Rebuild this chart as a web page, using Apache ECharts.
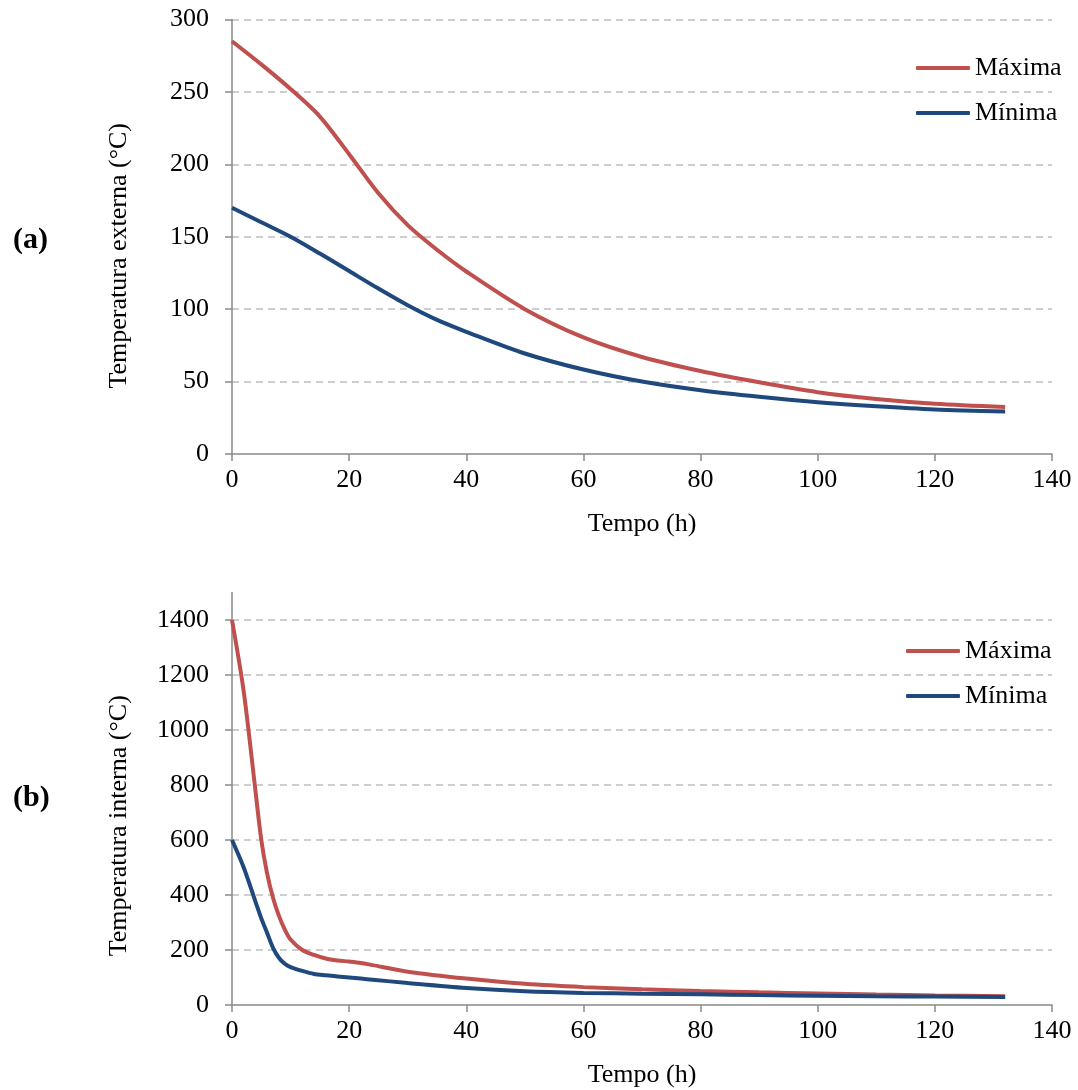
<!DOCTYPE html>
<html>
<head>
<meta charset="utf-8">
<script src="https://cdn.jsdelivr.net/npm/echarts@6/dist/echarts.min.js"></script>
<style>
html,body{margin:0;padding:0;background:#fff;}
#chart{width:1078px;height:1090px;}
</style>
</head>
<body>
<div id="chart"></div>
<script>
// Chart (a): external temperature
var timeA = [0, 5, 10, 15, 20, 25, 30, 35, 40, 50, 60, 70, 80, 90, 100, 110, 120, 132];
var maxA  = [285, 269, 252, 233, 207, 180, 158, 141, 126, 100, 80.5, 67, 57.3, 49.5, 42.7, 38, 34.7, 32.4];
var minA  = [170, 160, 150, 138.4, 126.3, 114.2, 102.7, 92.6, 84.4, 69.4, 58.3, 50, 44, 39.5, 35.8, 33, 30.8, 29.4];

// Chart (b): internal temperature
var timeB = [0, 2, 4, 5, 6, 7, 8, 9, 10, 12, 14, 16, 18, 20, 22, 24, 30, 40, 50, 60, 70, 80, 90, 100, 110, 120, 132];
var maxB  = [1400, 1140, 780, 600, 478, 390, 325, 275, 238, 200, 182, 169, 162, 158, 153, 145, 121, 96, 77, 65, 57, 51, 46, 42, 38, 35, 32];
var minB  = [600, 500, 376, 315, 262, 208, 172, 150, 138, 124, 113, 108, 104, 100, 96, 92, 80, 62, 50, 44, 41, 39, 36, 34, 32, 30.5, 29];

var xTicks = [0, 20, 40, 60, 80, 100, 120, 140];
var yTicksA = [0, 50, 100, 150, 200, 250, 300];
var yTicksB = [0, 200, 400, 600, 800, 1000, 1200, 1400];

var seriesNames = ['Máxima', 'Mínima'];
var panelLabels = ['(a)', '(b)'];
var yNames = ['Temperatura externa (°C)', 'Temperatura interna (°C)'];
var xName = 'Tempo (h)';

function pairs(t, v) { return t.map(function (x, i) { return [x, v[i]]; }); }

var FONT = 'Liberation Serif, Times New Roman, serif';
var RED = '#C0504D', BLUE = '#1F497D';
var axisGray = '#898989', gridGray = '#BFBFBF';
var plain = function (v) { return String(v); };

function xAxisCfg(gridIndex) {
  return {
    type: 'value', gridIndex: gridIndex, min: 0, max: 140, interval: 20,
    name: xName, nameLocation: 'middle', nameGap: 57,
    nameTextStyle: { fontFamily: FONT, fontSize: 26, color: '#000' },
    axisLine: { show: true, onZero: false, lineStyle: { color: axisGray, width: 1.5 } },
    axisTick: { show: true, inside: false, length: 7, customValues: xTicks, lineStyle: { color: axisGray, width: 1.5 } },
    axisLabel: { fontFamily: FONT, fontSize: 26, color: '#000', margin: 13, customValues: xTicks, formatter: plain },
    splitLine: { show: false }
  };
}

var chart = echarts.init(document.getElementById('chart'), null, { renderer: 'canvas' });
var option = {
  backgroundColor: '#fff',
  animation: false,
  title: [
    { text: panelLabels[0], left: 13, top: 225, padding: 0,
      textStyle: { fontFamily: FONT, fontSize: 30, fontWeight: 'bold', color: '#000' } },
    { text: panelLabels[1], left: 13, top: 783, padding: 0,
      textStyle: { fontFamily: FONT, fontSize: 30, fontWeight: 'bold', color: '#000' } }
  ],
  legend: [
    { data: seriesNames, orient: 'vertical', left: 916, top: 55, itemWidth: 54, itemHeight: 4, itemGap: 19,
      icon: 'roundRect', padding: 0,
      textStyle: { fontFamily: FONT, fontSize: 26, color: '#000' } },
    { data: seriesNames, orient: 'vertical', left: 906, top: 638, itemWidth: 54, itemHeight: 4, itemGap: 19,
      icon: 'roundRect', padding: 0,
      textStyle: { fontFamily: FONT, fontSize: 26, color: '#000' } }
  ],
  grid: [
    { left: 232, top: 19.5, width: 820, height: 434.5, containLabel: false },
    { left: 232, top: 592.5, width: 820, height: 412.5, containLabel: false }
  ],
  xAxis: [xAxisCfg(0), xAxisCfg(1)],
  yAxis: [
    {
      type: 'value', gridIndex: 0, min: 0, max: 300, interval: 50,
      name: yNames[0], nameLocation: 'middle', nameGap: 100,
      nameTextStyle: { fontFamily: FONT, fontSize: 26, color: '#000', padding: [0, 38, 0, 0] },
      axisLine: { show: true, lineStyle: { color: axisGray, width: 1.5 } },
      axisTick: { show: true, inside: false, length: 7, lineStyle: { color: axisGray, width: 1.5 } },
      axisLabel: { fontFamily: FONT, fontSize: 26, color: '#000', margin: 23, formatter: plain },
      splitLine: { show: true, showMinLine: false, lineStyle: { color: gridGray, width: 1.5, type: [7, 5] } }
    },
    {
      type: 'value', gridIndex: 1, min: 0, max: 1500, interval: 200,
      name: yNames[1], nameLocation: 'middle', nameGap: 100,
      nameTextStyle: { fontFamily: FONT, fontSize: 26, color: '#000', padding: [0, 54, 0, 0] },
      axisLine: { show: true, lineStyle: { color: axisGray, width: 1.5 } },
      axisTick: { show: true, inside: false, length: 7, customValues: yTicksB, lineStyle: { color: axisGray, width: 1.5 } },
      axisLabel: { fontFamily: FONT, fontSize: 26, color: '#000', margin: 23, customValues: yTicksB, formatter: plain },
      splitLine: { show: true, showMinLine: false, lineStyle: { color: gridGray, width: 1.5, type: [7, 5] } }
    }
  ],
  series: [
    { name: seriesNames[0], type: 'line', xAxisIndex: 0, yAxisIndex: 0, data: pairs(timeA, maxA),
      smooth: 0.3, showSymbol: false, symbol: 'none', color: RED, lineStyle: { color: RED, width: 4 } },
    { name: seriesNames[1], type: 'line', xAxisIndex: 0, yAxisIndex: 0, data: pairs(timeA, minA),
      smooth: 0.3, showSymbol: false, symbol: 'none', color: BLUE, lineStyle: { color: BLUE, width: 4 } },
    { name: seriesNames[0], type: 'line', xAxisIndex: 1, yAxisIndex: 1, data: pairs(timeB, maxB),
      smooth: 0.3, showSymbol: false, symbol: 'none', color: RED, lineStyle: { color: RED, width: 4 } },
    { name: seriesNames[1], type: 'line', xAxisIndex: 1, yAxisIndex: 1, data: pairs(timeB, minB),
      smooth: 0.3, showSymbol: false, symbol: 'none', color: BLUE, lineStyle: { color: BLUE, width: 4 } }
  ]
};
chart.setOption(option);
</script>
</body>
</html>
